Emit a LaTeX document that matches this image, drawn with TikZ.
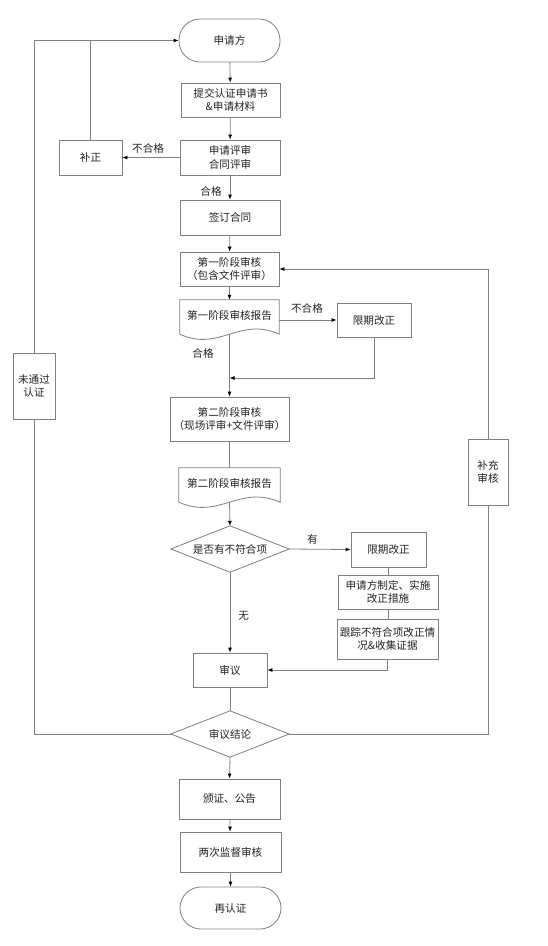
\documentclass[tikz,border=0pt]{standalone}
\usepackage{fontspec}
\newfontfamily\cjk{Noto Sans CJK SC}
\usetikzlibrary{arrows.meta,calc}
\definecolor{lc}{HTML}{808080}
\definecolor{tc}{HTML}{222222}
\tikzset{
  base/.style={inner sep=0pt, align=center, text=tc, font=\cjk\fontsize{10.6}{13.5}\selectfont},
  box/.style={base, draw=lc, line width=0.8pt, rectangle},
  term/.style={box, rounded corners=21pt},
  ghost/.style={base, draw=none, rectangle},
  conn/.style={draw=lc, line width=0.8pt},
  arr/.style={conn, -{Latex[length=5pt,width=4pt,color=black]}},
  lbl/.style={base}
}
\begin{document}
\begin{tikzpicture}[x=1pt,y=-1pt]
\useasboundingbox (0,0) rectangle (548,946);
\fill[white] (0,0) rectangle (548,946);

\node[term, minimum width=101pt, minimum height=43pt] (start) at (229.5,40.5) {申请方};
\node[box, minimum width=99pt, minimum height=34pt] (submit) at (230.5,100) {提交认证申请书\\\&申请材料};
\node[box, minimum width=100pt, minimum height=35pt] (review) at (230,157.5) {申请评审\\合同评审};
\node[box, minimum width=63pt, minimum height=35pt] (fix) at (90.5,157.5) {补正};
\node[box, minimum width=100pt, minimum height=35pt] (sign) at (230,217.5) {签订合同};
\node[box, minimum width=99pt, minimum height=34pt] (sa) at (229.5,269) {第一阶段审核\\（包含文件评审）};
\node[ghost, minimum width=99pt, minimum height=34pt] (doca) at (229.5,317) {\raisebox{3pt}{第一阶段审核报告}};
\node[box, minimum width=74pt, minimum height=34pt] (fixa) at (374,320) {限期改正};
\node[box, minimum width=119pt, minimum height=44pt] (sb) at (229.5,419) {第二阶段审核\\（现场评审+文件评审）};
\node[box, minimum width=42pt, minimum height=66pt] (fail) at (34,386) {未通过\\认证};
\node[ghost, minimum width=101pt, minimum height=34pt] (docb) at (229.5,485) {\raisebox{3pt}{第二阶段审核报告}};
\node[ghost, minimum width=118pt, minimum height=46pt] (q) at (230,549) {是否有不符合项};
\node[box, minimum width=75pt, minimum height=35pt] (fixb) at (388.5,549.5) {限期改正};
\node[box, minimum width=100pt, minimum height=34pt] (plan) at (388,592) {申请方制定、实施\\改正措施};
\node[box, minimum width=101pt, minimum height=40pt] (track) at (387.5,639) {跟踪不符合项改正情\\况\&收集证据};
\node[box, minimum width=74pt, minimum height=34pt] (delib) at (230,670) {审议};
\node[ghost, minimum width=118pt, minimum height=46pt] (concl) at (230,734) {审议结论};
\node[box, minimum width=40pt, minimum height=66pt] (supp) at (488,472) {补充\\审核};
\node[box, minimum width=101pt, minimum height=40pt] (cert) at (229.5,799) {颁证、公告};
\node[box, minimum width=101pt, minimum height=40pt] (mon) at (230.5,852) {两次监督审核};
\node[term, minimum width=101pt, minimum height=42pt] (recert) at (230.5,908) {再认证};

% document shapes
\draw[conn] (doca.south west) -- (doca.north west) -- (doca.north east) -- (doca.south east)
  .. controls ($(doca.south east)!0.4!(doca.south west)+(0,-18)$) and ($(doca.south east)!0.6!(doca.south west)+(0,18)$) .. (doca.south west);
\draw[conn] (docb.south west) -- (docb.north west) -- (docb.north east) -- (docb.south east)
  .. controls ($(docb.south east)!0.4!(docb.south west)+(0,-18)$) and ($(docb.south east)!0.6!(docb.south west)+(0,18)$) .. (docb.south west);
% diamonds
\draw[conn] (q.north) -- (q.east) -- (q.south) -- (q.west) -- cycle;
\draw[conn] (concl.north) -- (concl.east) -- (concl.south) -- (concl.west) -- cycle;

% connectors
\draw[arr] (start) -- (submit);
\draw[arr] (submit) -- (review);
\draw[arr] (review.west) -- node[lbl, above=4pt, pos=0.55] {不合格} (fix.east);
\draw[conn] (fix.north) -- (fix.north |- start.west);
\draw[arr] (review) -- (sign);
\node[lbl] (lhg) at (211,191) {合格};
\draw[arr] (sign) -- (sa);
\draw[arr] (sa) -- (doca);
\draw[arr] (doca.east |- fixa.west) -- (fixa.west);
\node[lbl] (lbhg) at (307,308) {不合格};
\draw[arr] (doca.south) -- (sb.north);
\node[lbl] (lhg2) at (203,353) {合格};
\coordinate (ja) at (fixa.south |- 0,378);
\draw[arr] (fixa.south) -- (ja) -- (ja -| sb.north);
\draw[conn] (sb.south) -- (docb.north);
\draw[arr] (docb.south) -- (q.north);
\draw[arr] (q.east) -- node[lbl, above=4pt, pos=0.38] {有} (fixb.west);
\draw[arr] (q.south) -- node[lbl, right=8pt, pos=0.54] {无} (delib.north);
\draw[conn] (fixb.south) -- (fixb.south |- plan.north);
\draw[conn] (plan.south) -- (plan.south |- track.north);
\coordinate (jb) at (track.south |- delib.east);
\draw[arr] (track.south) -- (jb) -- (delib.east);
\draw[conn] (delib.south) -- (concl.north);
\coordinate (cl) at (fail.south |- concl.west);
\draw[conn] (concl.west) -- (cl) -- (fail.south);
\coordinate (tl) at (fail.north |- start.west);
\draw[arr] (fail.north) -- (tl) -- (start.west);
\coordinate (cr) at (supp.south |- concl.east);
\draw[conn] (concl.east) -- (cr) -- (supp.south);
\coordinate (tr) at (supp.north |- sa.east);
\draw[arr] (supp.north) -- (tr) -- (sa.east);
\draw[arr] (concl.south) -- (cert.north);
\draw[arr] (cert) -- (mon);
\draw[arr] (mon) -- (recert);
\end{tikzpicture}
\end{document}
